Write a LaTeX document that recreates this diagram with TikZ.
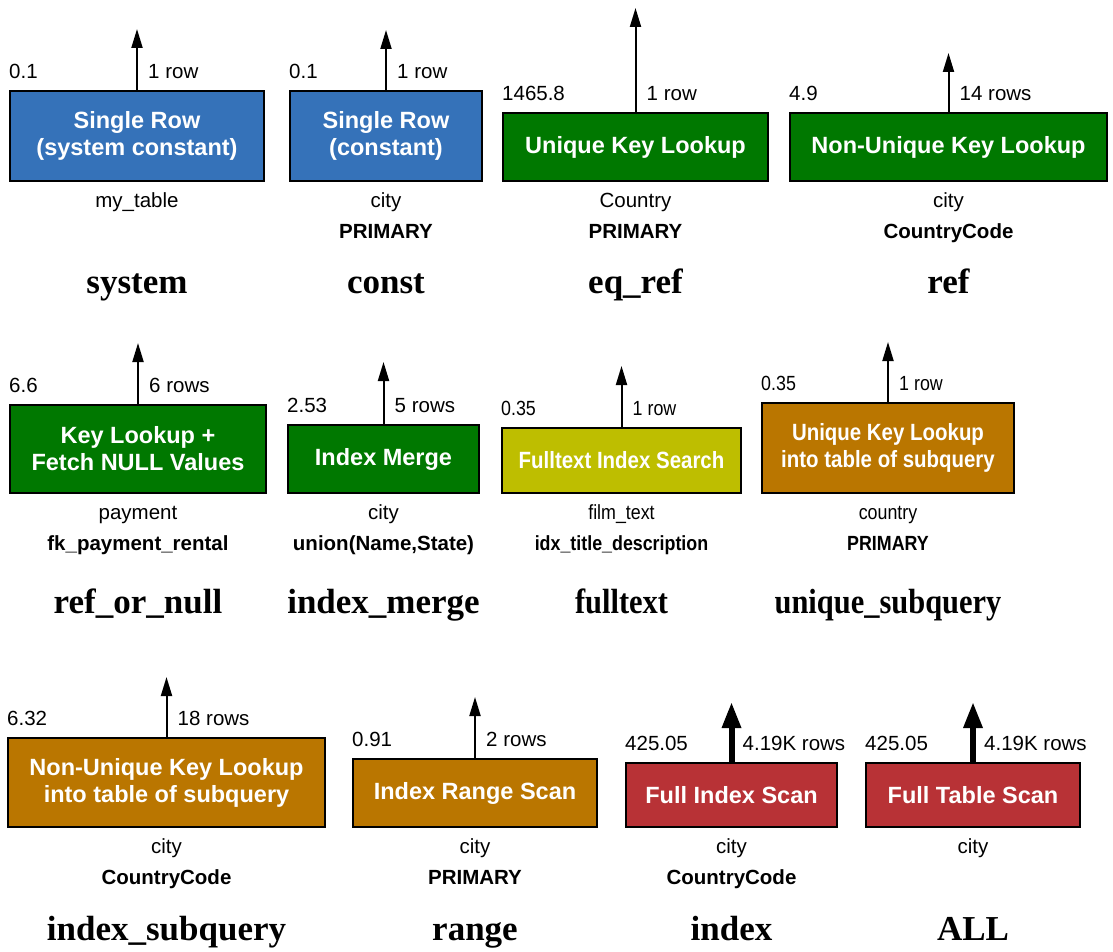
\documentclass[tikz,border=0pt]{standalone}
\usepackage{fontspec}
\setmainfont{Liberation Sans}
\newfontfamily\kindfont{Liberation Serif}
\usetikzlibrary{positioning}
\usetikzlibrary{arrows.meta}

\definecolor{planblue}{RGB}{53,114,185}
\definecolor{plangreen}{RGB}{0,120,0}
\definecolor{planolive}{RGB}{190,190,0}
\definecolor{planorange}{RGB}{186,118,0}
\definecolor{planred}{RGB}{184,50,54}

\begin{document}
\begin{tikzpicture}[x=1pt,y=-1pt,
        plan/.style={rectangle,draw=black,line width=2pt,text=white,align=center,inner sep=0pt,
            font=\bfseries\fontsize{23.5}{27}\selectfont},
        cost/.style={inner sep=0pt,text depth=0pt,font=\fontsize{20.5}{24}\selectfont},
        tbl/.style={inner sep=0pt,text height=15pt,text depth=4pt,font=\fontsize{20.5}{24}\selectfont},
        key/.style={tbl,font=\bfseries\fontsize{20.5}{24}\selectfont},
        kind/.style={anchor=base,inner sep=0pt,font=\kindfont\bfseries\fontsize{35}{40}\selectfont},
        narrow/.style={execute at begin node=\addfontfeature{FakeStretch=0.87}},
        arr/.style={line width=2pt,-{Triangle[length=19pt,width=11pt]}},
        thickarr/.style={line width=6pt,-{Triangle[length=26pt,width=18pt]}}
        ]
        \useasboundingbox (0,0) rectangle (1113,952);
        % first row
        \node (b1) [plan,fill=planblue,minimum width=254pt,minimum height=90pt] at (137,136) {Single Row\\(system constant)};
        \coordinate (o1) at (b1.north |- 0,29);
        \draw[arr] (b1.north) -- (o1);
        \node (c1) [cost,above right=11pt and 0pt of b1.north west] {0.1};
        \node (r1) [cost,above right=11pt and 11pt of b1.north] {1 row};
        \node (t1) [tbl,below=10pt of b1] {my\_table};
        \node (k1) at (137,293) [kind] {system};

        \node (b2) [plan,fill=planblue,minimum width=192pt,minimum height=90pt] at (386,136) {Single Row\\(constant)};
        \coordinate (o2) at (b2.north |- 0,30);
        \draw[arr] (b2.north) -- (o2);
        \node (c2) [cost,above right=11pt and 0pt of b2.north west] {0.1};
        \node (r2) [cost,above right=11pt and 11pt of b2.north] {1 row};
        \node (t2) [tbl,below=10pt of b2] {city};
        \node (i2) [key,below=12pt of t2] {PRIMARY};
        \node (k2) at (386,293) [kind] {const};

        \node (b3) [plan,fill=plangreen,minimum width=265pt,minimum height=68pt] at (635.5,147) {Unique Key Lookup};
        \coordinate (o3) at (b3.north |- 0,8);
        \draw[arr] (b3.north) -- (o3);
        \node (c3) [cost,above right=11pt and 0pt of b3.north west] {1465.8};
        \node (r3) [cost,above right=11pt and 11pt of b3.north] {1 row};
        \node (t3) [tbl,below=10pt of b3] {Country};
        \node (i3) [key,below=12pt of t3] {PRIMARY};
        \node (k3) at (635.5,293) [kind] {eq\_ref};

        \node (b4) [plan,fill=plangreen,minimum width=317pt,minimum height=68pt] at (948.5,147) {Non-Unique Key Lookup};
        \coordinate (o4) at (b4.north |- 0,53);
        \draw[arr] (b4.north) -- (o4);
        \node (c4) [cost,above right=11pt and 0pt of b4.north west] {4.9};
        \node (r4) [cost,above right=11pt and 11pt of b4.north] {14 rows};
        \node (t4) [tbl,below=10pt of b4] {city};
        \node (i4) [key,below=12pt of t4] {CountryCode};
        \node (k4) at (948.5,293) [kind] {ref};

        % second row
        \node (b5) [plan,fill=plangreen,minimum width=256pt,minimum height=88pt] at (138,449) {Key Lookup +\\Fetch NULL Values};
        \coordinate (o5) at (b5.north |- 0,343);
        \draw[arr] (b5.north) -- (o5);
        \node (c5) [cost,above right=11pt and 0pt of b5.north west] {6.6};
        \node (r5) [cost,above right=11pt and 11pt of b5.north] {6 rows};
        \node (t5) [tbl,below=10pt of b5] {payment};
        \node (i5) [key,below=12pt of t5] {fk\_payment\_rental};
        \node (k5) at (138,613) [kind] {ref\_or\_null};

        \node (b6) [plan,fill=plangreen,minimum width=191pt,minimum height=68pt] at (383.5,459) {Index Merge};
        \coordinate (o6) at (b6.north |- 0,362);
        \draw[arr] (b6.north) -- (o6);
        \node (c6) [cost,above right=11pt and 0pt of b6.north west] {2.53};
        \node (r6) [cost,above right=11pt and 11pt of b6.north] {5 rows};
        \node (t6) [tbl,below=10pt of b6] {city};
        \node (i6) [key,below=12pt of t6] {union(Name,State)};
        \node (k6) at (383.5,613) [kind] {index\_merge};

        % these two are set a little narrower
        \node (b7) [plan,narrow,fill=planolive,minimum width=239pt,minimum height=65pt] at (621.5,460.5) {Fulltext Index Search};
        \coordinate (o7) at (b7.north |- 0,366);
        \draw[arr] (b7.north) -- (o7);
        \node (c7) [cost,narrow,above right=11pt and 0pt of b7.north west] {0.35};
        \node (r7) [cost,narrow,above right=11pt and 11pt of b7.north] {1 row};
        \node (t7) [tbl,narrow,below=10pt of b7] {film\_text};
        \node (i7) [key,narrow,below=12pt of t7] {idx\_title\_description};
        \node (k7) at (621.5,613) [kind,narrow] {fulltext};

        \node (b8) [plan,narrow,fill=planorange,minimum width=252pt,minimum height=90pt] at (888,448) {Unique Key Lookup\\into table of subquery};
        \coordinate (o8) at (b8.north |- 0,342);
        \draw[arr] (b8.north) -- (o8);
        \node (c8) [cost,narrow,above right=11pt and 0pt of b8.north west] {0.35};
        \node (r8) [cost,narrow,above right=11pt and 11pt of b8.north] {1 row};
        \node (t8) [tbl,narrow,below=10pt of b8] {country};
        \node (i8) [key,narrow,below=12pt of t8] {PRIMARY};
        \node (k8) at (888,613) [kind,narrow] {unique\_subquery};

        % third row
        \node (b9) [plan,fill=planorange,minimum width=317pt,minimum height=89pt] at (166.5,782.5) {Non-Unique Key Lookup\\into table of subquery};
        \coordinate (o9) at (b9.north |- 0,677);
        \draw[arr] (b9.north) -- (o9);
        \node (c9) [cost,above right=11pt and 0pt of b9.north west] {6.32};
        \node (r9) [cost,above right=11pt and 11pt of b9.north] {18 rows};
        \node (t9) [tbl,below=10pt of b9] {city};
        \node (i9) [key,below=12pt of t9] {CountryCode};
        \node (k9) at (166.5,940) [kind] {index\_subquery};

        \node (b10) [plan,fill=planorange,minimum width=244pt,minimum height=68pt] at (475,793) {Index Range Scan};
        \coordinate (o10) at (b10.north |- 0,697);
        \draw[arr] (b10.north) -- (o10);
        \node (c10) [cost,above right=11pt and 0pt of b10.north west] {0.91};
        \node (r10) [cost,above right=11pt and 11pt of b10.north] {2 rows};
        \node (t10) [tbl,below=10pt of b10] {city};
        \node (i10) [key,below=12pt of t10] {PRIMARY};
        \node (k10) at (475,940) [kind] {range};

        \node (b11) [plan,fill=planred,minimum width=211pt,minimum height=64pt] at (731.5,795) {Full Index Scan};
        \coordinate (o11) at (b11.north |- 0,702);
        \draw[thickarr] (b11.north) -- (o11);
        \node (c11) [cost,above right=11pt and 0pt of b11.north west] {425.05};
        \node (r11) [cost,above right=11pt and 11pt of b11.north] {4.19K rows};
        \node (t11) [tbl,below=10pt of b11] {city};
        \node (i11) [key,below=12pt of t11] {CountryCode};
        \node (k11) at (731.5,940) [kind] {index};

        \node (b12) [plan,fill=planred,minimum width=214pt,minimum height=64pt] at (973,795) {Full Table Scan};
        \coordinate (o12) at (b12.north |- 0,702);
        \draw[thickarr] (b12.north) -- (o12);
        \node (c12) [cost,above right=11pt and 0pt of b12.north west] {425.05};
        \node (r12) [cost,above right=11pt and 11pt of b12.north] {4.19K rows};
        \node (t12) [tbl,below=10pt of b12] {city};
        \node (k12) at (973,940) [kind] {ALL};
    \end{tikzpicture}
\end{document}
